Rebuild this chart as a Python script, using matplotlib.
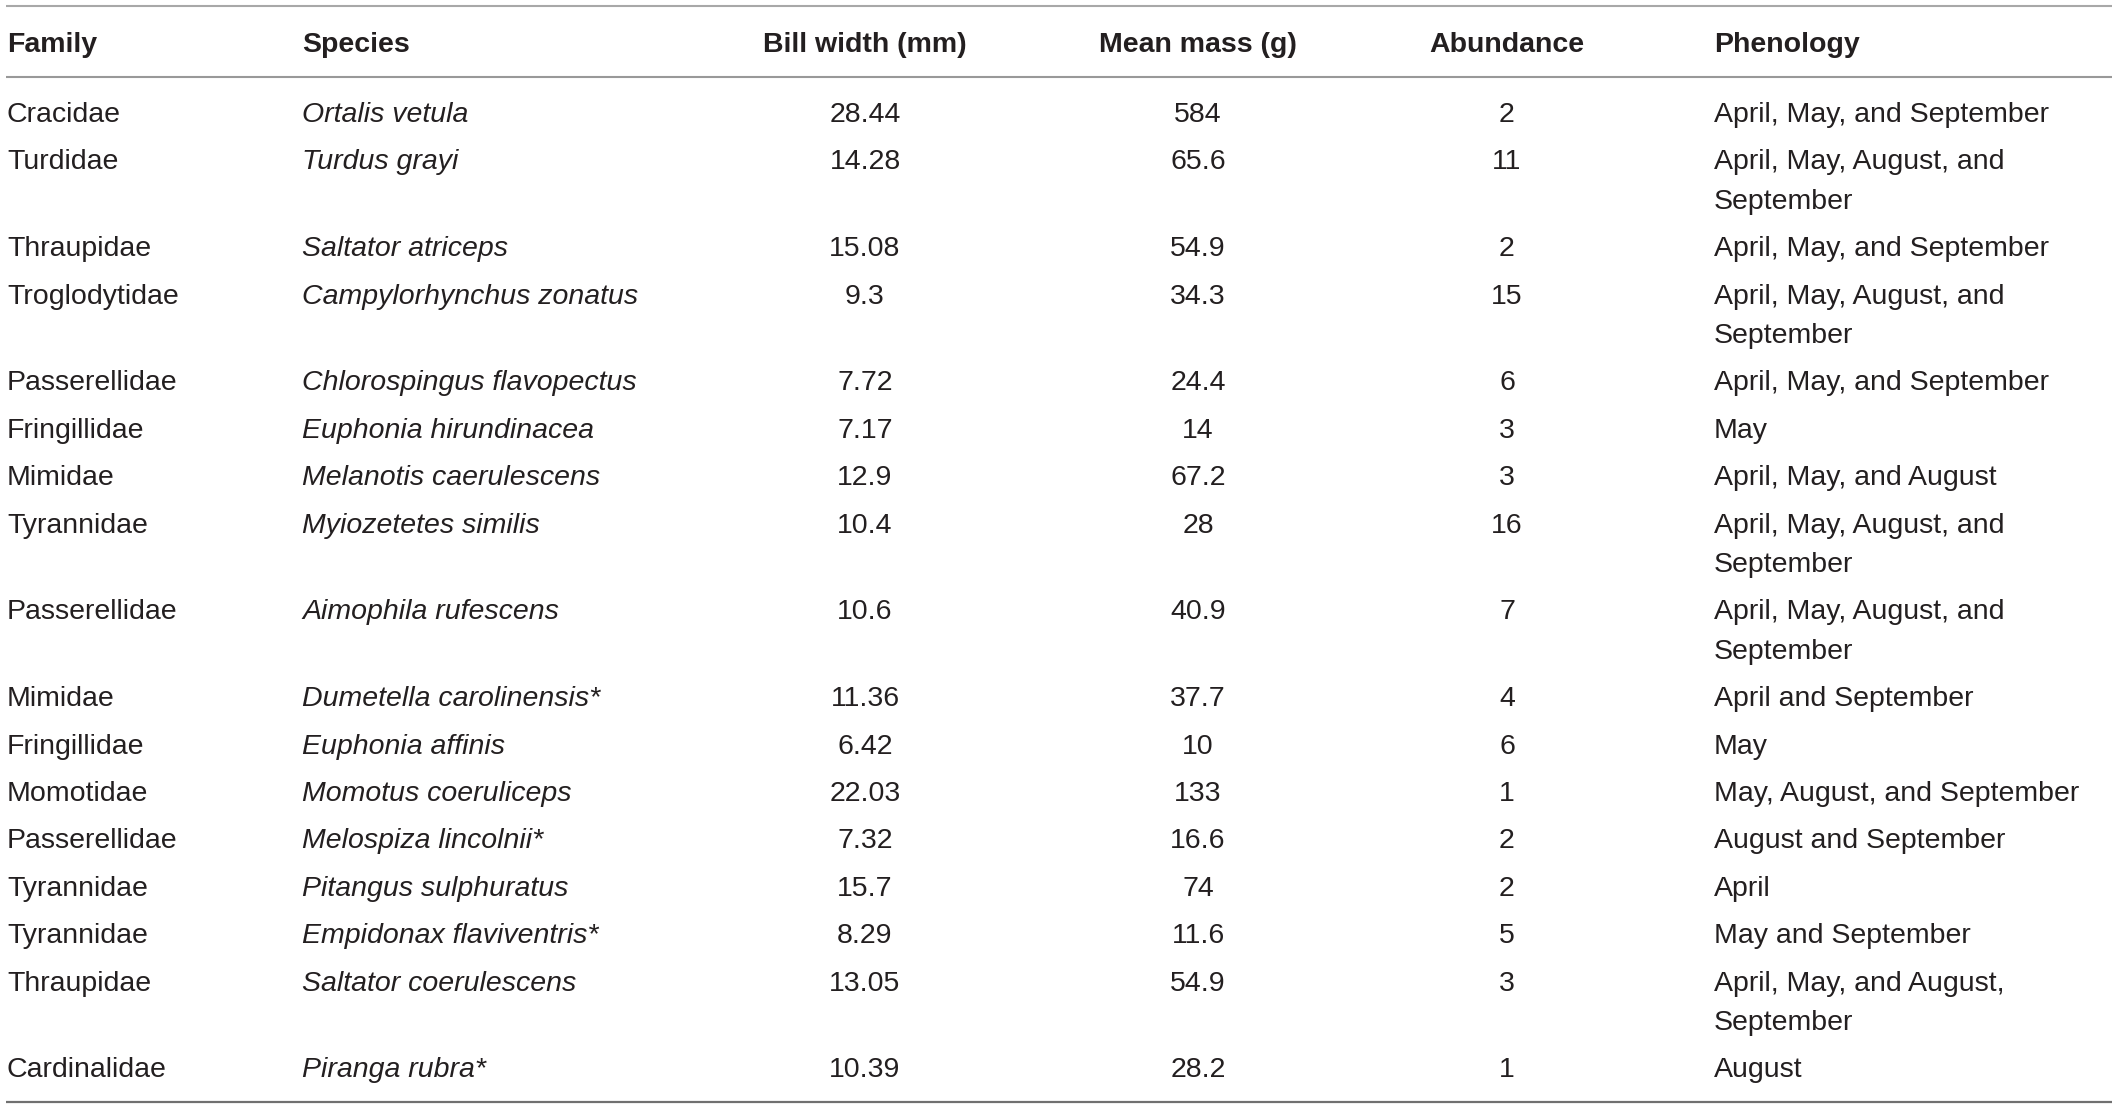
import matplotlib.pyplot as plt

families = ["Cracidae", "Turdidae", "Thraupidae", "Troglodytidae", "Passerellidae",
            "Fringillidae", "Mimidae", "Tyrannidae", "Passerellidae", "Mimidae",
            "Fringillidae", "Momotidae", "Passerellidae", "Tyrannidae", "Tyrannidae",
            "Thraupidae", "Cardinalidae"]
species = ["Ortalis vetula", "Turdus grayi", "Saltator atriceps", "Campylorhynchus zonatus",
           "Chlorospingus flavopectus", "Euphonia hirundinacea", "Melanotis caerulescens",
           "Myiozetetes similis", "Aimophila rufescens", "Dumetella carolinensis*",
           "Euphonia affinis", "Momotus coeruliceps", "Melospiza lincolnii*",
           "Pitangus sulphuratus", "Empidonax flaviventris*", "Saltator coerulescens",
           "Piranga rubra*"]
bill_width = [28.44, 14.28, 15.08, 9.3, 7.72, 7.17, 12.9, 10.4, 10.6, 11.36,
              6.42, 22.03, 7.32, 15.7, 8.29, 13.05, 10.39]
mean_mass = [584, 65.6, 54.9, 34.3, 24.4, 14, 67.2, 28, 40.9, 37.7,
             10, 133, 16.6, 74, 11.6, 54.9, 28.2]
abundance = [2, 11, 2, 15, 6, 3, 3, 16, 7, 4, 6, 1, 2, 2, 5, 3, 1]
phenology = ["April, May, and September",
             "April, May, August, and\nSeptember",
             "April, May, and September",
             "April, May, August, and\nSeptember",
             "April, May, and September",
             "May",
             "April, May, and August",
             "April, May, August, and\nSeptember",
             "April, May, August, and\nSeptember",
             "April and September",
             "May",
             "May, August, and September",
             "August and September",
             "April",
             "May and September",
             "April, May, and August,\nSeptember",
             "August"]
headers = ["Family", "Species", "Bill width (mm)", "Mean mass (g)", "Abundance", "Phenology"]

W, H = 2118, 1108
fig = plt.figure(figsize=(W / 100, H / 100), dpi=100)
ax = fig.add_axes([0, 0, 1, 1])
ax.set_xlim(0, W)
ax.set_ylim(H, 0)
ax.axis("off")

ink = "#231f20"
fs = 20.5
font = "Liberation Sans"
# column x positions and alignment
cols = [(7, "left"), (302, "left"), (865, "center"), (1198, "center"),
        (1507, "center"), (1714, "left")]

for (x, ha), h in zip(cols, headers):
    ax.text(x, 51.5, h, ha=ha, va="baseline", fontsize=fs, fontweight="bold",
            color=ink, family=font)

ax.plot([6, 2112], [5.5, 5.5], color="#a8a8a8", lw=1.5, solid_capstyle="butt")
ax.plot([6, 2112], [76.5, 76.5], color="#999999", lw=1.5, solid_capstyle="butt")
ax.plot([6, 2112], [1101.5, 1101.5], color="#707070", lw=1.6, solid_capstyle="butt")

row_step = 47.4
line_step = 39.4
y = 122
for i in range(len(families)):
    cells = [families[i], species[i], f"{bill_width[i]:g}", f"{mean_mass[i]:g}",
             str(abundance[i]), phenology[i]]
    nlines = 1
    for j, ((x, ha), c) in enumerate(zip(cols, cells)):
        lines = c.split("\n")
        nlines = max(nlines, len(lines))
        for k, ln in enumerate(lines):
            ax.text(x, y + k * line_step, ln, ha=ha, va="baseline", fontsize=fs,
                    color=ink, family=font, style="italic" if j == 1 else "normal")
    y += (nlines - 1) * line_step + row_step

fig.savefig("out.png", dpi=100, facecolor="white")
